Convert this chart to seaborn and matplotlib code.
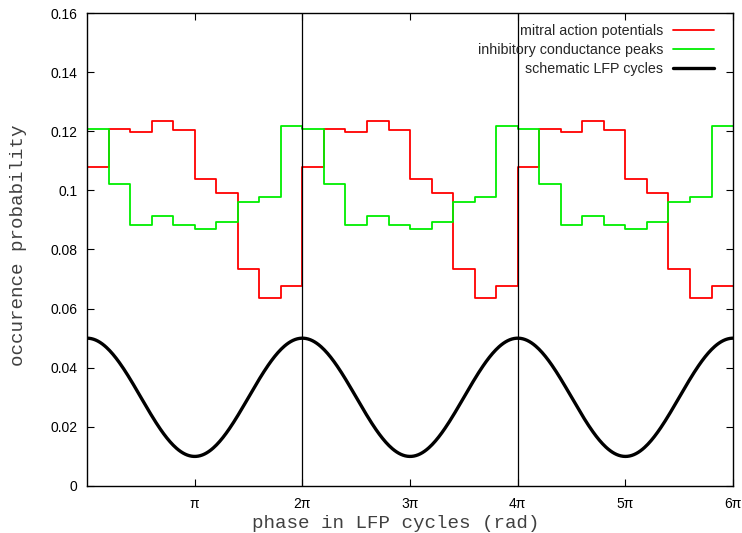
import matplotlib
matplotlib.use("Agg")
import matplotlib.pyplot as plt
import numpy as np
import pandas as pd
import seaborn as sns

# occurrence probability per phase bin (10 bins per LFP cycle)
MITRAL = [0.108, 0.1208, 0.1197, 0.1234, 0.1203, 0.1037, 0.0991, 0.0734, 0.0636, 0.0678]
INHIB = [0.1207, 0.1023, 0.0883, 0.0914, 0.0883, 0.0871, 0.0892, 0.0961, 0.0977, 0.1217]
N_CYCLES = 3

# schematic LFP: cosine between 0.01 and 0.05
LFP_MEAN = 0.03
LFP_AMP = 0.02

XTICKS = [np.pi * k for k in range(1, 7)]
XTICK_LABELS = ["π", "2π", "3π", "4π", "5π", "6π"]
YTICKS = [0, 0.02, 0.04, 0.06, 0.08, 0.1, 0.12, 0.14, 0.16]
YTICK_LABELS = ["0", "0.02", "0.04", "0.06", "0.08", "0.1", "0.12", "0.14", "0.16"]


def step_frame(values: list[float]) -> pd.DataFrame:
    vals = list(values) * N_CYCLES
    edges = np.linspace(0, 2 * np.pi * N_CYCLES, len(vals) + 1)
    return pd.DataFrame({"phase": edges, "prob": vals + [vals[-1]]})


def main() -> None:
    sns.set_theme(style="ticks")
    plt.rcParams["font.family"] = ["Liberation Sans", "DejaVu Sans"]

    fig = plt.figure(figsize=(7.42, 5.33), dpi=100)
    ax = fig.add_axes([0.1173, 0.0882, 0.8707, 0.8874])

    xmax = 2 * np.pi * N_CYCLES
    sns.lineplot(data=step_frame(MITRAL), x="phase", y="prob", ax=ax, color="#ff0000",
                 linewidth=1.3, drawstyle="steps-post", label="mitral action potentials")
    sns.lineplot(data=step_frame(INHIB), x="phase", y="prob", ax=ax, color="#00ee00",
                 linewidth=1.3, drawstyle="steps-post", label="inhibitory conductance peaks")
    phase = np.linspace(0, xmax, 600)
    lfp = pd.DataFrame({"phase": phase, "prob": LFP_MEAN + LFP_AMP * np.cos(phase)})
    sns.lineplot(data=lfp, x="phase", y="prob", ax=ax, color="black", linewidth=2.4,
                 label="schematic LFP cycles")

    for k in range(1, N_CYCLES):
        ax.axvline(2 * np.pi * k, color="black", linewidth=0.9)

    ax.set_xlim(0, xmax)
    ax.set_ylim(0, 0.16)
    ax.set_xticks(XTICKS)
    ax.set_xticklabels(XTICK_LABELS, fontsize=10)
    ax.set_yticks(YTICKS)
    ax.set_yticklabels(YTICK_LABELS, fontsize=10)
    ax.tick_params(direction="in", length=5, width=0.8, top=True, right=True, colors="black")
    ax.tick_params(axis="x", pad=8)
    ax.tick_params(axis="y", pad=7)
    for spine in ax.spines.values():
        spine.set_visible(True)
        spine.set_color("black")
        spine.set_linewidth(1.0)

    mono = ["Liberation Mono", "DejaVu Sans Mono"]
    ax.set_xlabel("phase in LFP cycles (rad)", family=mono, fontsize=13.8, color="#404040",
                  labelpad=3, x=0.478)
    ax.set_ylabel("occurence probability", family=mono, fontsize=13.8, color="#404040",
                  labelpad=17, y=0.51)

    leg = ax.legend(loc="upper right", bbox_to_anchor=(0.980, 0.9896), frameon=False,
                    markerfirst=False, fontsize=10.3, handlelength=2.9, handletextpad=0.7,
                    labelspacing=0.35, borderaxespad=0.0)
    for text in leg.get_texts():
        text.set_ha("right")

    fig.savefig("out.png", dpi=100, facecolor="white")


if __name__ == "__main__":
    main()
